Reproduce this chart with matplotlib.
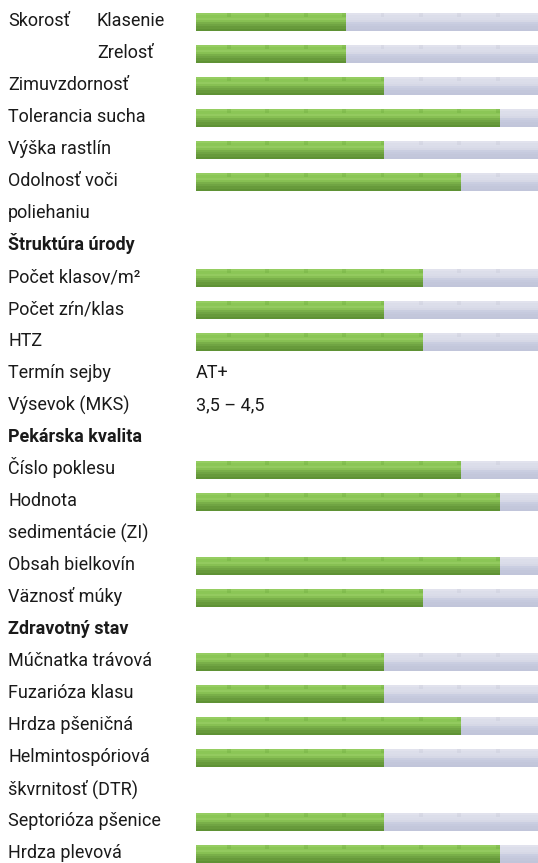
import matplotlib
matplotlib.use('Agg')
import matplotlib.pyplot as plt
from matplotlib.transforms import blended_transform_factory

# popisky riadkov (27 riadkov, niektore su zalomene)
labels = ['Skorosť', 'Zimuvzdornosť', 'Tolerancia sucha', 'Výška rastlín',
          'Odolnosť voči', 'poliehaniu', 'Štruktúra úrody', 'Počet klasov/m²',
          'Počet zŕn/klas', 'HTZ', 'Termín sejby', 'Výsevok (MKS)',
          'Pekárska kvalita', 'Číslo poklesu', 'Hodnota', 'sedimentácie (ZI)',
          'Obsah bielkovín', 'Väznosť múky', 'Zdravotný stav', 'Múčnatka trávová',
          'Fuzarióza klasu', 'Hrdza pšeničná', 'Helmintospóriová',
          'škvrnitosť (DTR)', 'Septorióza pšenice', 'Hrdza plevová']
label_rows = [0, 2, 3, 4, 5, 6, 7, 8, 9, 10, 11, 12, 13, 14, 15, 16, 17, 18,
              19, 20, 21, 22, 23, 24, 25, 26]
bold_rows = [7, 13, 19]

sub_labels = ['Klasenie', 'Zrelosť']
sub_rows = [0, 1]

# hodnotenie na stupnici 1-9
bar_rows = [0, 1, 2, 3, 4, 5, 8, 9, 10, 14, 15, 17, 18, 20, 21, 22, 23, 25, 26]
scores = [4, 4, 5, 8, 5, 7, 6, 5, 6, 7, 8, 8, 6, 5, 5, 7, 5, 5, 8]

text_values = ['AT+', '3,5 – 4,5']
text_rows = [11, 12]

scale_max = 9

green = ['#95cd61', '#8bc656', '#93ca5f', '#87c053', '#79af49', '#70a443',
         '#679a3b', '#5f9235']
grey = ['#e1e2ed', '#dcdeea', '#dadce9', '#d6d8e6', '#cacee1', '#c6cade',
        '#c3c7db', '#c1c5da']

plt.rcParams['font.family'] = ['Roboto', 'DejaVu Sans']

fig = plt.figure(figsize=(5.38, 8.63), dpi=100)
ax = fig.add_axes([0, 0, 1, 1])
ax.set_xlim(-192.3 / 38.4, scale_max)
ax.set_ylim(26 + 9 / 32.0, -22 / 32.0)
ax.axis('off')

bar_h = 0.55
start = 0.1
n = len(green)
for r, s in zip(bar_rows, scores):
    top = r - bar_h / 2
    for k in range(n):
        y = top + bar_h * (k + 0.5) / n
        ax.barh(y, scale_max - start, left=start, height=bar_h / n,
                color=grey[k], linewidth=0)
        ax.barh(y, s - start, left=start, height=bar_h / n,
                color=green[k], linewidth=0)
    # jemny tien pri deliacich ciarach
    for d in range(1, scale_max):
        col = '#5a9a2e' if d <= s else '#b9bccd'
        ax.barh(top + bar_h * 0.12, 0.1, left=d - 0.1, height=bar_h * 0.24,
                color=col, alpha=0.22, linewidth=0)

tr = blended_transform_factory(fig.transFigure, ax.transData)
for lab, r in zip(labels, label_rows):
    ax.text(8 / 538, r + 0.14, lab, transform=tr, fontsize=13,
            va='baseline', ha='left', color='#1a1a1a',
            fontweight='bold' if r in bold_rows else 'normal')
for lab, r in zip(sub_labels, sub_rows):
    ax.text(97 / 538, r + 0.14, lab, transform=tr, fontsize=13,
            va='baseline', ha='left', color='#1a1a1a')
for lab, r in zip(text_values, text_rows):
    ax.text(196 / 538, r + 0.14, lab, transform=tr, fontsize=13,
            va='baseline', ha='left', color='#1a1a1a')

fig.savefig('out.png', dpi=100)
